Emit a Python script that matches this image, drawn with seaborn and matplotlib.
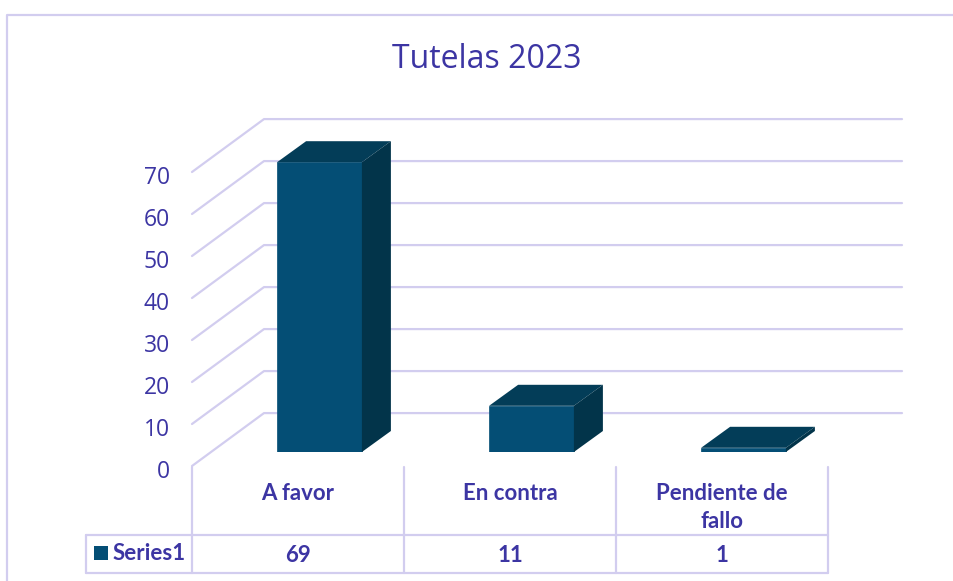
import matplotlib
matplotlib.use('Agg')
import matplotlib.pyplot as plt
import matplotlib.transforms as mtrans
import seaborn as sns
from matplotlib.patches import Polygon, Rectangle

categorias = ['A favor', 'En contra', 'Pendiente de\nfallo']
valores = [69, 11, 1]
ticks_y = [0, 10, 20, 30, 40, 50, 60, 70]
titulo = 'Tutelas 2023'
serie = 'Series1'

ancho, alto = 954, 581
color_linea = '#d2cdef'
color_texto = '#3c35a3'
color_frente = '#044e75'
color_arriba = '#033d58'
color_lado = '#02344a'

sns.set_theme(style='white')
plt.rcParams['font.family'] = ['Lato', 'DejaVu Sans']


def caja(izq, der, arriba, abajo):
    return [izq / ancho, 1 - abajo / alto, (der - izq) / ancho, (abajo - arriba) / alto]


fig = plt.figure(figsize=(ancho / 100, alto / 100), dpi=100)
fig.patch.set_facecolor('white')

# marco y tabla, en pixeles
marco = fig.add_axes([0, 0, 1, 1], zorder=0)
marco.set_xlim(0, ancho)
marco.set_ylim(alto, 0)
marco.axis('off')
marco.plot([7, 7, ancho], [alto, 15, 15], color=color_linea, lw=1.6)
for x in [192, 404, 616, 828]:
    marco.plot([x, x], [467, 573], color=color_linea, lw=1.6)
marco.plot([86, 828], [535, 535], color=color_linea, lw=1.6)
marco.plot([86, 828], [573, 573], color=color_linea, lw=1.6)
marco.plot([86, 86], [535, 573], color=color_linea, lw=1.6)
marco.add_patch(Rectangle((94, 546), 14, 14, color=color_frente, lw=0))
marco.text(113, 553.5, serie, color=color_texto, fontsize=16, fontweight='bold', va='center')
for i, v in enumerate(valores):
    marco.text(298 + i * 212, 556, str(v), color=color_texto, fontsize=16,
               fontweight='bold', ha='center', va='center')
marco.text(487, 60, titulo, color=color_texto, fontsize=23, family='Open Sans', ha='center', va='center')

# pared con lineas de escala
pared = fig.add_axes(caja(192, 902, 130, 466), zorder=1)
pared.patch.set_alpha(0)
pared.set_xlim(0, 710)
pared.set_ylim(0, 80)
sns.despine(ax=pared, left=True, bottom=True)
for v in ticks_y:
    pared.plot([0, 72, 710], [v, v + 12.6, v + 12.6], color=color_linea, lw=1.6, clip_on=False)
pared.set_yticks(ticks_y)
pared.set_yticklabels([str(t) for t in ticks_y], family='Open Sans', fontsize=16.5, color=color_texto)
pared.set_xticks([106, 318, 530])
pared.set_xticklabels(categorias, fontsize=16, fontweight='bold', color=color_texto, linespacing=1.4)
pared.tick_params(axis='y', length=0, pad=16)
pared.tick_params(axis='x', length=0, pad=12.5)
# los numeros van un poco mas abajo que la linea
bajar = mtrans.ScaledTranslation(0, -2.5 / 100, fig.dpi_scale_trans)
for etiqueta in pared.get_yticklabels():
    etiqueta.set_transform(etiqueta.get_transform() + bajar)

# barras
ax = fig.add_axes(caja(213.5, 849.5, 116, 452), zorder=2)
ax.patch.set_alpha(0)
sns.barplot(x=categorias, y=valores, color=color_frente, saturation=1, width=0.4,
            edgecolor=color_frente, linewidth=0.5, ax=ax)
ax.set_xlim(-0.5, 2.5)
ax.set_ylim(0, 80)
ax.axis('off')

# caras de arriba y del lado de cada barra
fondo_x = 29 / 212
fondo_y = 5
for barra in list(ax.patches):
    x0 = barra.get_x()
    x1 = x0 + barra.get_width()
    h = barra.get_height()
    ax.add_patch(Polygon([(x0, h), (x1, h), (x1 + fondo_x, h + fondo_y), (x0 + fondo_x, h + fondo_y)],
                         color=color_arriba, lw=0, clip_on=False))
    ax.add_patch(Polygon([(x1, 0), (x1 + fondo_x, fondo_y), (x1 + fondo_x, h + fondo_y), (x1, h)],
                         color=color_lado, lw=0, clip_on=False))

fig.savefig('out.png', dpi=100)
